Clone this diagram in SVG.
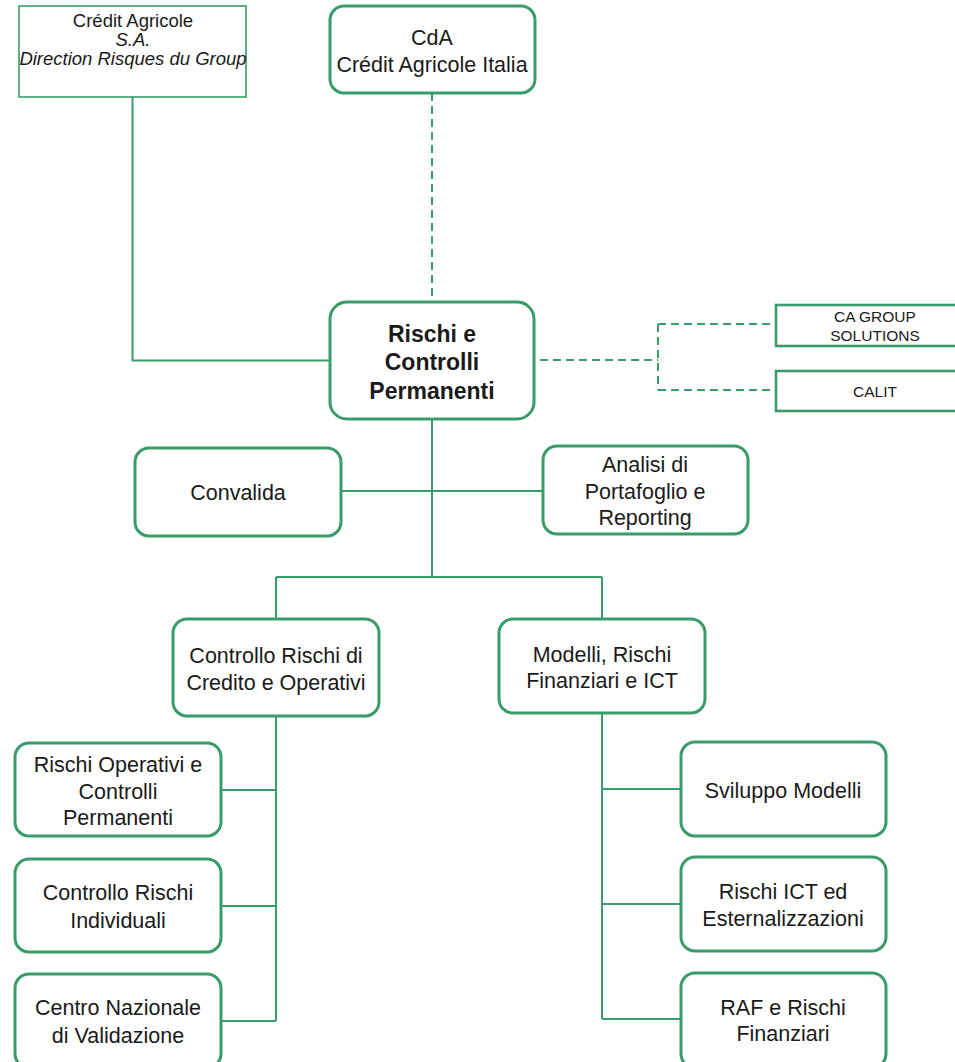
<svg xmlns="http://www.w3.org/2000/svg" width="955" height="1062" viewBox="0 0 955 1062">
<style>
.box{fill:#fff;stroke:#3a9b6b;stroke-width:3}
.thin{fill:#fff;stroke:#3a9b6b;stroke-width:1.6}
.sq{fill:#fff;stroke:#3a9b6b;stroke-width:2.6}
.ln{fill:none;stroke:#3a9b6b;stroke-width:2}
.dash{fill:none;stroke:#3a9b6b;stroke-width:2;stroke-dasharray:8 5}
text{font-family:"Liberation Sans",Arial,sans-serif;fill:#1a1a1a;text-anchor:middle}
.t{font-size:21.5px}
.s{font-size:18.5px}
.xs{font-size:15.5px}
.b{font-size:23px;font-weight:bold}
</style>
<rect width="955" height="1062" fill="#fff"/>
<g id="connectors">
<path class="ln" d="M132.5 97 V360.5 H330"/>
<path class="dash" d="M432 93 V302"/>
<path class="dash" d="M540 360 H658 M658 324 V390 M658 324 H776 M658 390 H776"/>
<path class="ln" d="M432 419 V577 M341 491 H543 M276 577 H602 M276 577 V619 M602 577 V619"/>
<path class="ln" d="M276 716 V1021 M221 790 H276 M221 906 H276 M221 1021 H276"/>
<path class="ln" d="M602 713 V1019 M602 789 H681 M602 904 H681 M602 1019 H681"/>
</g>
<g id="n-csa">
<rect class="thin" x="19" y="6" width="227" height="91"/>
<text class="s" x="133" y="27">Crédit Agricole</text>
<text class="s" x="133" y="46" font-style="italic">S.A.</text>
<text class="s" x="133" y="65" font-style="italic">Direction Risques du Group</text>
</g>
<g id="n-cda">
<rect class="box" x="330" y="6" width="205" height="87" rx="14"/>
<text class="t" x="432" y="45">CdA</text>
<text class="t" x="432" y="72">Crédit Agricole Italia</text>
</g>
<g id="n-main">
<rect class="box" x="330" y="302" width="204" height="117" rx="17"/>
<text class="b" x="432" y="342">Rischi e</text>
<text class="b" x="432" y="370">Controlli</text>
<text class="b" x="432" y="399">Permanenti</text>
</g>
<g id="n-cags">
<rect class="sq" x="776" y="305" width="200" height="41"/>
<text class="xs" x="875" y="322">CA GROUP</text>
<text class="xs" x="875" y="341">SOLUTIONS</text>
</g>
<g id="n-calit">
<rect class="sq" x="776" y="371" width="200" height="40"/>
<text class="xs" x="875" y="397">CALIT</text>
</g>
<g id="n-convalida">
<rect class="box" x="135" y="448" width="206" height="88" rx="14"/>
<text class="t" x="238" y="500">Convalida</text>
</g>
<g id="n-analisi">
<rect class="box" x="543" y="446" width="205" height="88" rx="14"/>
<text class="t" x="645" y="472">Analisi di</text>
<text class="t" x="645" y="499">Portafoglio e</text>
<text class="t" x="645" y="525">Reporting</text>
</g>
<g id="n-crco">
<rect class="box" x="173" y="619" width="206" height="97" rx="14"/>
<text class="t" x="276" y="663">Controllo Rischi di</text>
<text class="t" x="276" y="690">Credito e Operativi</text>
</g>
<g id="n-mrf">
<rect class="box" x="499" y="619" width="206" height="94" rx="14"/>
<text class="t" x="602" y="662">Modelli, Rischi</text>
<text class="t" x="602" y="688">Finanziari e ICT</text>
</g>
<g id="n-roc">
<rect class="box" x="15" y="743" width="206" height="93" rx="14"/>
<text class="t" x="118" y="772">Rischi Operativi e</text>
<text class="t" x="118" y="799">Controlli</text>
<text class="t" x="118" y="825">Permanenti</text>
</g>
<g id="n-cri">
<rect class="box" x="15" y="859" width="206" height="93" rx="14"/>
<text class="t" x="118" y="900">Controllo Rischi</text>
<text class="t" x="118" y="928">Individuali</text>
</g>
<g id="n-cnv">
<rect class="box" x="15" y="974" width="206" height="94" rx="14"/>
<text class="t" x="118" y="1015">Centro Nazionale</text>
<text class="t" x="118" y="1043">di Validazione</text>
</g>
<g id="n-sm">
<rect class="box" x="681" y="742" width="205" height="94" rx="14"/>
<text class="t" x="783" y="798">Sviluppo Modelli</text>
</g>
<g id="n-ict">
<rect class="box" x="681" y="857" width="205" height="94" rx="14"/>
<text class="t" x="783" y="899">Rischi ICT ed</text>
<text class="t" x="783" y="926">Esternalizzazioni</text>
</g>
<g id="n-raf">
<rect class="box" x="681" y="973" width="205" height="95" rx="14"/>
<text class="t" x="783" y="1015">RAF e Rischi</text>
<text class="t" x="783" y="1041">Finanziari</text>
</g>
</svg>
